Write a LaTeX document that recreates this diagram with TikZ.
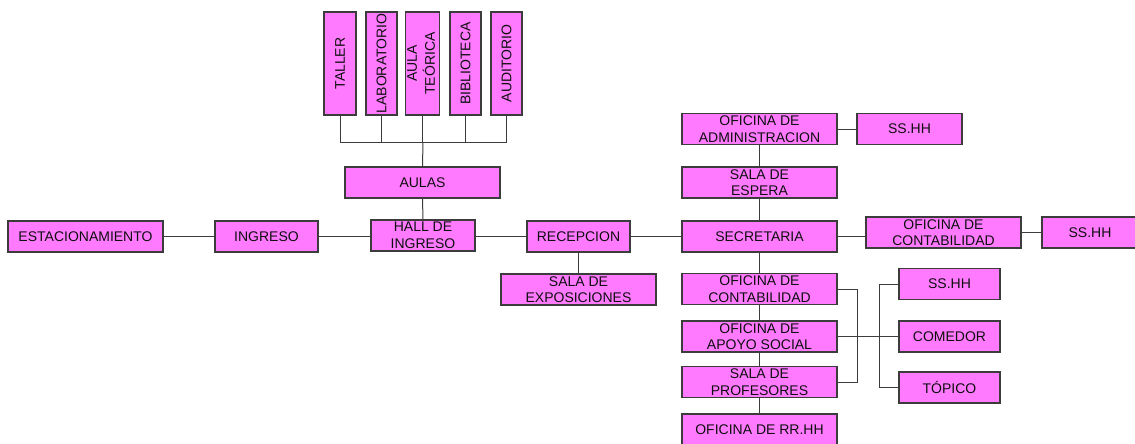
\documentclass[tikz,border=0pt]{standalone}
\usepackage{fontspec}
\setmainfont{Liberation Sans}
\begin{document}
\begin{tikzpicture}[x=1pt,y=-1pt,
  box/.style={draw={rgb,255:red,60;green,60;blue,60}, line width=1.1pt,
    fill={rgb,255:red,255;green,122;blue,255}, inner sep=0pt,
    font=\fontsize{14}{16.5}\selectfont, align=center, text={rgb,255:red,15;green,15;blue,15}},
  link/.style={draw={rgb,255:red,60;green,60;blue,60}, line width=1pt}]
\useasboundingbox (0,0) rectangle (1135,444);
\clip (0,0) rectangle (1135,444);

% classroom wing
\node[box, minimum width=32, minimum height=103] (taller) at (340,63.5) {\rotatebox{90}{TALLER}};
\node[box, minimum width=31, minimum height=103] (lab) at (381.5,63.5) {\rotatebox{90}{LABORATORIO}};
\node[box, minimum width=31, minimum height=103] (teo) at (422.5,63.5) {\rotatebox{90}{\begin{tabular}{@{}c@{}}AULA\\[1pt] TEÓRICA\end{tabular}}};
\node[box, minimum width=31, minimum height=103] (bib) at (465.5,63.5) {\rotatebox{90}{BIBLIOTECA}};
\node[box, minimum width=31, minimum height=103] (aud) at (506.5,63.5) {\rotatebox{90}{AUDITORIO}};
\node[box, minimum width=155, minimum height=31] (aulas) at (422.5,182.5) {AULAS};

% main axis
\node[box, minimum width=155, minimum height=31] (est) at (85.5,236.5) {ESTACIONAMIENTO};
\node[box, minimum width=103, minimum height=31] (ing) at (266.5,236.5) {INGRESO};
\node[box, minimum width=104, minimum height=31] (hall) at (423,235.5) {HALL DE\\INGRESO};
\node[box, minimum width=103, minimum height=31] (rec) at (578.5,236.5) {RECEPCION};
\node[box, minimum width=155, minimum height=31] (expo) at (578.5,289.5) {SALA DE\\EXPOSICIONES};
\node[box, minimum width=155, minimum height=31] (sec) at (759.5,236.5) {SECRETARIA};

% administration
\node[box, minimum width=155, minimum height=31] (admin) at (759.5,129) {OFICINA DE\\ADMINISTRACION};
\node[box, minimum width=105, minimum height=31] (ss1) at (909.5,129) {SS.HH};
\node[box, minimum width=155, minimum height=31] (esp) at (759.5,182.5) {SALA DE\\ESPERA};
\node[box, minimum width=155, minimum height=31] (cont1) at (943.5,232.5) {OFICINA DE\\CONTABILIDAD};
\node[box, minimum width=96, minimum height=31] (ss2) at (1090,232.5) {SS.HH};

% lower column
\node[box, minimum width=155, minimum height=31] (cont2) at (759.5,289) {OFICINA DE\\CONTABILIDAD};
\node[box, minimum width=155, minimum height=31] (apoyo) at (759.5,336.5) {OFICINA DE\\APOYO SOCIAL};
\node[box, minimum width=155, minimum height=31] (prof) at (759.5,382) {SALA DE\\PROFESORES};
\node[box, minimum width=155, minimum height=32] (rrhh) at (759.5,430) {OFICINA DE RR.HH};

% services
\node[box, minimum width=101, minimum height=31] (ss3) at (949.5,284) {SS.HH};
\node[box, minimum width=101, minimum height=31] (com) at (949.5,336.5) {COMEDOR};
\node[box, minimum width=101, minimum height=31] (top) at (949.5,387.5) {TÓPICO};

% classroom bus
\coordinate (bus) at (423,142);
\foreach \n in {taller,lab,teo,bib,aud}
  \draw[link] (\n.south) -- (\n.south |- bus);
\draw[link] (taller.south |- bus) -- (aud.south |- bus);
\draw[link] (bus) -- (aulas.north);
\draw[link] (aulas.south) -- (hall.north);

% main axis connectors
\draw[link] (est.east) -- (ing.west);
\draw[link] (ing.east) -- (ing.east -| hall.west);
\draw[link] (hall.east |- rec.west) -- (rec.west);
\draw[link] (rec.east) -- (sec.west);
\draw[link] (rec.south) -- (expo.north);
\draw[link] (sec.east) -- (sec.east -| cont1.west);
\draw[link] (cont1.east) -- (ss2.west);

% administration column
\draw[link] (admin.east) -- (ss1.west);
\draw[link] (admin.south) -- (esp.north);
\draw[link] (esp.south) -- (sec.north);
\draw[link] (sec.south) -- (cont2.north);
\draw[link] (cont2.south) -- (apoyo.north);
\draw[link] (apoyo.south) -- (prof.north);
\draw[link] (prof.south) -- (rrhh.north);

% bracket to services
\coordinate (bl) at (857,336.5);
\coordinate (br) at (879,336.5);
\draw[link] (cont2.east) -| (bl) |- (prof.east);
\draw[link] (apoyo.east) -- (com.west);
\draw[link] (ss3.west) -| (br) |- (top.west);
\end{tikzpicture}
\end{document}
